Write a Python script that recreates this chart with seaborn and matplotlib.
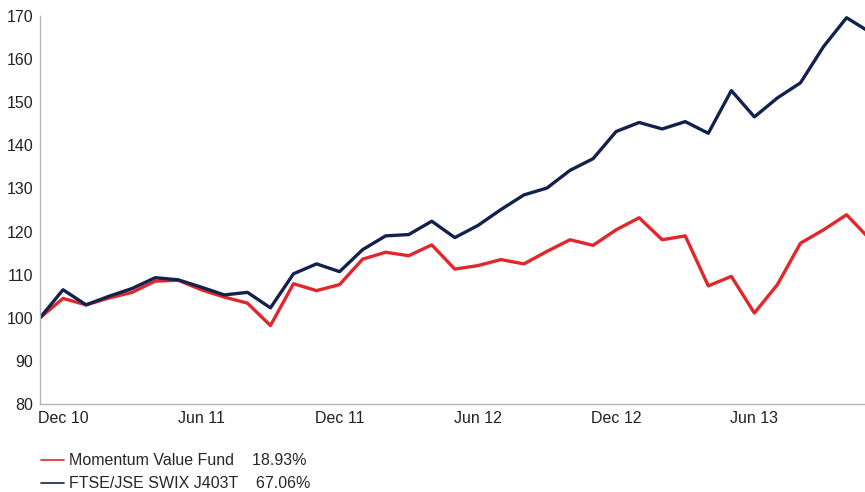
import matplotlib
matplotlib.use("Agg")
import matplotlib.pyplot as plt
from matplotlib.lines import Line2D
import seaborn as sns
import pandas as pd

# monthly index values, Nov 10 = 100
months = list(range(37))
fund = [100, 104.5, 103, 104.6, 105.9, 108.5, 108.7, 106.5, 104.8, 103.4,
        98.2, 107.9, 106.3, 107.7, 113.6, 115.2, 114.4, 116.9, 111.3, 112.1,
        113.5, 112.5, 115.4, 118.1, 116.8, 120.4, 123.2, 118.1, 119.0, 107.4,
        109.6, 101.1, 107.7, 117.3, 120.4, 123.9, 118.3]
bench = [100, 106.5, 103, 105, 106.8, 109.3, 108.8, 107.1, 105.3, 105.9,
         102.3, 110.2, 112.5, 110.7, 115.8, 119.0, 119.3, 122.4, 118.6, 121.4,
         125.1, 128.5, 130.1, 134.2, 136.9, 143.2, 145.3, 143.8, 145.5, 142.8,
         152.7, 146.6, 151.0, 154.5, 162.9, 169.6, 166.3]
tick_pos = [1, 7, 13, 19, 25, 31]
tick_labels = ["Dec 10", "Jun 11", "Dec 11", "Jun 12", "Dec 12", "Jun 13"]
names = ["Momentum Value Fund", "FTSE/JSE SWIX J403T"]
returns = ["18.93%", "67.06%"]
colors = ["#e1272c", "#13224d"]

df = pd.DataFrame({
    "month": months * 2,
    "value": fund + bench,
    "series": [names[0]] * len(fund) + [names[1]] * len(bench),
})

sns.set_style("white")
plt.rcParams["font.family"] = ["Liberation Sans", "DejaVu Sans"]

fig = plt.figure(figsize=(8.65, 4.92), dpi=100)
ax = fig.add_axes([40 / 865, 1 - 404 / 492, 1 - 40 / 865, (404 - 16) / 492])

sns.lineplot(data=df, x="month", y="value", hue="series",
             palette=dict(zip(names, colors)), linewidth=2.4, ax=ax,
             legend=False)

ax.set_xlim(0, 35.8)
ax.set_ylim(80, 170)
ax.set_yticks(range(80, 171, 10))
ax.set_xticks(tick_pos)
ax.set_xticklabels(tick_labels)
ax.set_xlabel("")
ax.set_ylabel("")

for s in ["top", "right"]:
    ax.spines[s].set_visible(False)
for s in ["left", "bottom"]:
    ax.spines[s].set_color("#b4b4b4")
    ax.spines[s].set_linewidth(1.0)
ax.tick_params(axis="both", colors="#b4b4b4", labelcolor="#222222",
               labelsize=11.5, length=3, width=0.8, direction="out", pad=2)
ax.grid(False)

handles = [Line2D([0], [0], color=c, lw=1.2) for c in colors]
labels = [f"{n}    {r}" for n, r in zip(names, returns)]
fig.legend(handles, labels, loc="upper left", bbox_to_anchor=(35 / 865, 1 - 447 / 492),
           frameon=False, fontsize=11.5, handlelength=1.4, handletextpad=0.35,
           labelspacing=0.5, borderaxespad=0)

fig.savefig("out.png", dpi=100)
